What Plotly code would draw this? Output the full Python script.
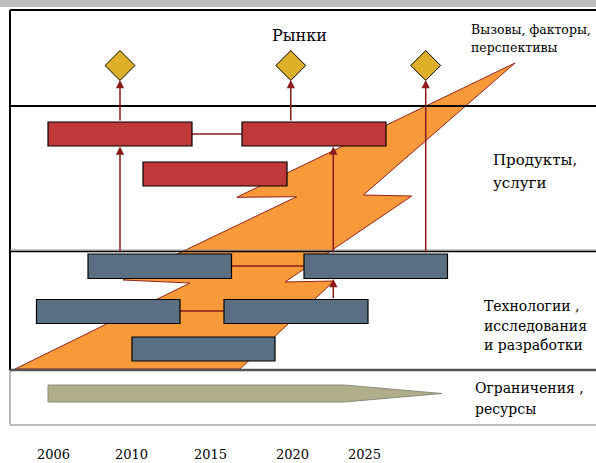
import plotly.graph_objects as go

W, H = 596, 463

# ---- diagram content (pixel coordinate system, y grows downward) ----
market_x = [120, 290.8, 425.7]
market_y = [65.5, 65.5, 65.5]

product_boxes = [  # x0, x1, y0, y1
    (48, 192, 122, 146),
    (242, 386, 122, 146),
    (143, 287, 162, 186),
]
tech_boxes = [
    (88, 231.5, 254, 278.5),
    (304, 447.5, 254, 278.5),
    (36.5, 180, 299.5, 323.5),
    (224, 368, 299.5, 323.5),
    (132, 275, 337, 361),
]
connectors = [  # x0, x1, y
    (192, 242, 134),
    (231.5, 304, 266),
    (180, 224, 311),
]
arrows = [  # x, y_tail, y_head
    (120, 254, 146.5),
    (120, 122, 80),
    (290.8, 122, 80),
    (333.3, 254, 146.5),
    (333.3, 299.5, 279),
    (425.7, 254, 80),
]
bolt_x = [15, 190, 123, 296.7, 236.7, 515, 363.3, 411.7, 285, 334, 240]
bolt_y = [369, 283, 280, 196.7, 197.3, 63, 195, 196, 282, 281, 369]

resource_x = [48, 344, 442, 344, 48]
resource_y = [385, 385, 393.5, 402, 402]

year_labels = ["2006", "2010", "2015", "2020", "2025"]
year_x = [53, 131, 210.5, 292.5, 364]

RED = "rgb(192,57,58)"
SLATE = "rgb(91,111,130)"
GOLD = "rgb(222,176,42)"
ORANGE = "rgb(248,154,58)"
DARKRED = "rgb(139,26,26)"
KHAKI = "rgb(176,173,138)"
FONT = "'DejaVu Serif', 'Liberation Serif', serif"

fig = go.Figure()
shapes = []

# title band (cut off)
shapes.append(dict(type="rect", x0=0, x1=W, y0=0, y1=7, fillcolor="rgb(190,190,190)",
                   line=dict(width=0), layer="below"))

# lightning bolt
path = "M " + " L ".join(f"{x},{y}" for x, y in zip(bolt_x, bolt_y)) + " Z"
shapes.append(dict(type="path", path=path, fillcolor=ORANGE,
                   line=dict(color="rgb(150,35,25)", width=1)))

# frame & region lines
shapes += [
    dict(type="line", x0=10, x1=W, y0=10, y1=10, line=dict(color="black", width=2)),
    dict(type="line", x0=10, x1=10, y0=10, y1=370, line=dict(color="black", width=2)),
    dict(type="line", x0=10, x1=10, y0=370, y1=425, line=dict(color="rgb(185,185,185)", width=2)),
    dict(type="line", x0=10, x1=W, y0=106, y1=106, line=dict(color="black", width=1.8)),
    dict(type="line", x0=10, x1=W, y0=250, y1=250, line=dict(color="rgb(150,150,150)", width=1)),
    dict(type="line", x0=10, x1=W, y0=251.5, y1=251.5, line=dict(color="black", width=1.5)),
    dict(type="line", x0=10, x1=W, y0=370, y1=370, line=dict(color="rgb(85,85,85)", width=2.5)),
    dict(type="line", x0=10, x1=W, y0=425, y1=425, line=dict(color="rgb(190,190,190)", width=2)),
]

# connectors
for x0, x1, y in connectors:
    shapes.append(dict(type="line", x0=x0, x1=x1, y0=y, y1=y,
                       line=dict(color=DARKRED, width=1.5)))

# boxes
for x0, x1, y0, y1 in product_boxes:
    shapes.append(dict(type="rect", x0=x0, x1=x1, y0=y0, y1=y1, fillcolor=RED,
                       line=dict(color="black", width=1.2)))
for x0, x1, y0, y1 in tech_boxes:
    shapes.append(dict(type="rect", x0=x0, x1=x1, y0=y0, y1=y1, fillcolor=SLATE,
                       line=dict(color="black", width=1.2)))

# resources arrow
rpath = "M " + " L ".join(f"{x},{y}" for x, y in zip(resource_x, resource_y)) + " Z"
shapes.append(dict(type="path", path=rpath, fillcolor=KHAKI,
                   line=dict(color="rgb(140,140,125)", width=1)))

# markets diamonds
fig.add_trace(go.Scatter(x=market_x, y=market_y, mode="markers",
                         marker=dict(symbol="diamond", size=23, color=GOLD,
                                     line=dict(color="black", width=1)),
                         hoverinfo="skip", showlegend=False))

annotations = []
for x, yt, yh in arrows:
    annotations.append(dict(x=x, y=yh, ax=x, ay=yt, xref="x", yref="y", axref="x", ayref="y",
                            text="", showarrow=True, arrowhead=2, arrowsize=1.1,
                            arrowwidth=1.5, arrowcolor=DARKRED, standoff=0, startstandoff=0))

def label(text, x, y, size, anchor="left"):
    annotations.append(dict(x=x, y=y, xref="x", yref="y", text=text, showarrow=False,
                            xanchor=anchor, yanchor="middle",
                            font=dict(family=FONT, size=size, color="black")))

label("Рынки", 299, 35, 16, "center")
label("Вызовы, факторы,", 469, 29, 12.5)
label("перспективы", 469, 47, 12.5)
label("Продукты,", 491, 160, 15)
label("услуги", 491, 183, 15)
label("Технологии ,", 482, 306, 14)
label("исследования", 482, 326, 14)
label("и разработки", 482, 345, 14)
label("Ограничения ,", 473, 388, 14)
label("ресурсы", 473, 409, 14)
for t, x in zip(year_labels, year_x):
    label(t, x, 454, 13, "center")

fig.update_layout(
    width=W, height=H, margin=dict(l=0, r=0, t=0, b=0),
    paper_bgcolor="white", plot_bgcolor="white",
    xaxis=dict(range=[0, W], visible=False, fixedrange=True),
    yaxis=dict(range=[H, 0], visible=False, fixedrange=True),
    shapes=shapes, annotations=annotations, showlegend=False,
)

fig.write_html("out.html", config={"displayModeBar": False},
               post_script="document.body.style.margin='0';document.body.style.overflow='hidden';")
